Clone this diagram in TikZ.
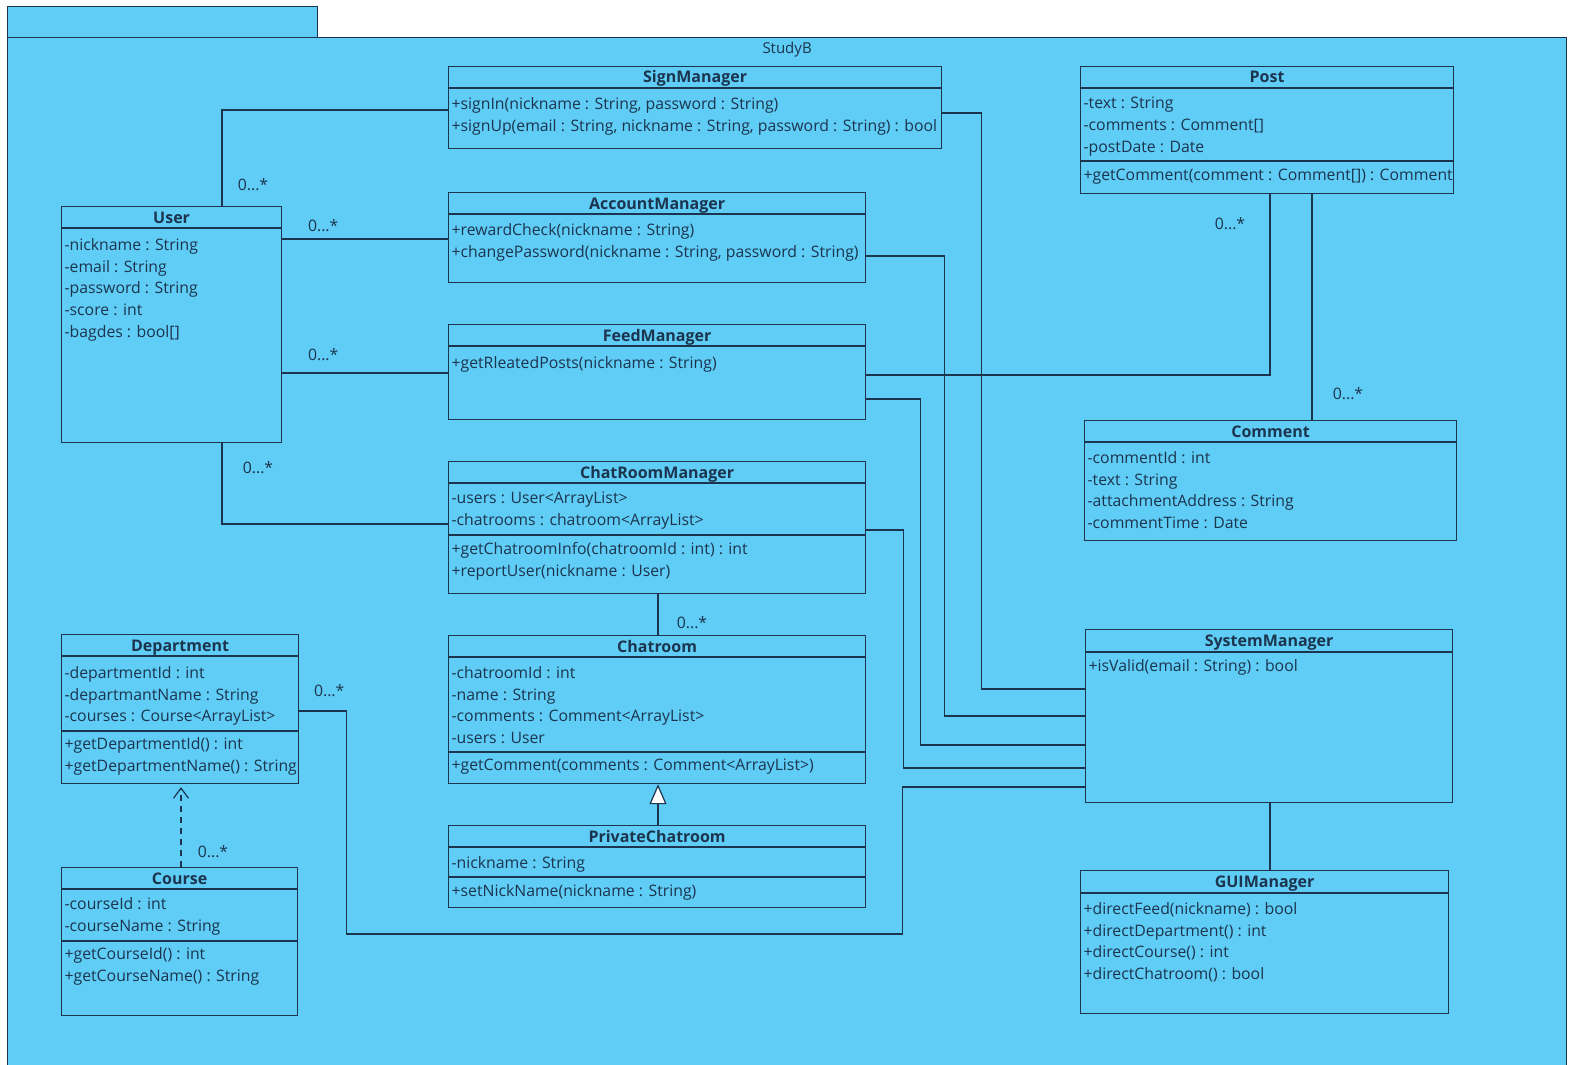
\documentclass[tikz,border=0pt]{standalone}
\usepackage{fontspec}
\setmainfont{Open Sans}
\usetikzlibrary{arrows.meta}
\definecolor{pkgblue}{RGB}{95,205,246}
\definecolor{ink}{RGB}{28,52,78}
\begin{document}
\begin{tikzpicture}[x=1pt,y=-1pt, line width=1.2pt, draw=ink, every node/.style={text=ink},
  box/.style={draw=ink,anchor=north west,inner sep=0},
  title/.style={font=\fontsize{16}{18}\selectfont\bfseries,inner sep=0,anchor=base},
  members/.style={anchor=north west,align=left,inner sep=0,font=\fontsize{15.8}{21.8}\selectfont},
  mult/.style={font=\fontsize{15.8}{18}\selectfont,inner sep=0},
  assoc/.style={draw=ink,line width=1.2pt}]
\useasboundingbox (0,0) rectangle (1572,1065);
\fill[white] (0,0) rectangle (1572,1065);
% package
\node[box,fill=pkgblue,minimum width=310pt,minimum height=31pt] (tab) at (7,6) {};
\node[box,fill=pkgblue,minimum width=1559pt,minimum height=1045pt] (studyb) at (7,37) {};
\node[mult,font=\fontsize{15}{17}\selectfont] (studyb-t) at ([yshift=-12.5pt]studyb.north) {StudyB};

% User
\node[box,minimum width=220pt,minimum height=236pt] (user) at (61,206) {};
\node[title] (user-t) at ([yshift=-17pt]user.north) {User};
\draw ([yshift=-22pt]user.north west) -- ([yshift=-22pt]user.north east);
\node[members] (user-a) at ([shift={(3pt,-31.7pt)}]user.north west) {-nickname : String\\-email : String\\-password : String\\-score : int\\-bagdes : bool[]};

% SignManager
\node[box,minimum width=493pt,minimum height=82pt] (sign) at (448,66) {};
\node[title] (sign-t) at ([yshift=-17pt]sign.north) {SignManager};
\draw ([yshift=-22pt]sign.north west) -- ([yshift=-22pt]sign.north east);
\node[members] (sign-m) at ([shift={(3pt,-30.7pt)}]sign.north west) {+signIn(nickname : String, password : String)\\+signUp(email : String, nickname : String, password : String) : bool};

% AccountManager
\node[box,minimum width=417pt,minimum height=90pt] (acct) at (448,192) {};
\node[title] (acct-t) at ([yshift=-17pt]acct.north) {AccountManager};
\draw ([yshift=-22pt]acct.north west) -- ([yshift=-22pt]acct.north east);
\node[members] (acct-m) at ([shift={(3pt,-30.7pt)}]acct.north west) {+rewardCheck(nickname : String)\\+changePassword(nickname : String, password : String)};

% FeedManager
\node[box,minimum width=417pt,minimum height=95pt] (feed) at (448,324) {};
\node[title] (feed-t) at ([yshift=-17pt]feed.north) {FeedManager};
\draw ([yshift=-22pt]feed.north west) -- ([yshift=-22pt]feed.north east);
\node[members] (feed-m) at ([shift={(3pt,-31.7pt)}]feed.north west) {+getRleatedPosts(nickname : String)};

% ChatRoomManager
\node[box,minimum width=417pt,minimum height=132pt] (crm) at (448,461) {};
\node[title] (crm-t) at ([yshift=-17pt]crm.north) {ChatRoomManager};
\draw ([yshift=-22pt]crm.north west) -- ([yshift=-22pt]crm.north east);
\draw ([yshift=-74pt]crm.north west) -- ([yshift=-74pt]crm.north east);
\node[members] (crm-a) at ([shift={(3pt,-30.7pt)}]crm.north west) {-users : User<ArrayList>\\-chatrooms : chatroom<ArrayList>};
\node[members] (crm-m) at ([shift={(3pt,-80.7pt)}]crm.north west) {+getChatroomInfo(chatroomId : int) : int\\+reportUser(nickname : User)};

% Chatroom
\node[box,minimum width=417pt,minimum height=148pt] (chat) at (448,635) {};
\node[title] (chat-t) at ([yshift=-17pt]chat.north) {Chatroom};
\draw ([yshift=-22pt]chat.north west) -- ([yshift=-22pt]chat.north east);
\draw ([yshift=-117pt]chat.north west) -- ([yshift=-117pt]chat.north east);
\node[members] (chat-a) at ([shift={(3pt,-30.7pt)}]chat.north west) {-chatroomId : int\\-name : String\\-comments : Comment<ArrayList>\\-users : User};
\node[members] (chat-m) at ([shift={(3pt,-123.7pt)}]chat.north west) {+getComment(comments : Comment<ArrayList>)};

% PrivateChatroom
\node[box,minimum width=417pt,minimum height=82pt] (priv) at (448,825) {};
\node[title] (priv-t) at ([yshift=-17pt]priv.north) {PrivateChatroom};
\draw ([yshift=-22pt]priv.north west) -- ([yshift=-22pt]priv.north east);
\draw ([yshift=-52pt]priv.north west) -- ([yshift=-52pt]priv.north east);
\node[members] (priv-a) at ([shift={(3pt,-30.7pt)}]priv.north west) {-nickname : String};
\node[members] (priv-m) at ([shift={(3pt,-58.5pt)}]priv.north west) {+setNickName(nickname : String)};

% Department
\node[box,minimum width=237pt,minimum height=149pt] (dept) at (61,634) {};
\node[title] (dept-t) at ([yshift=-17pt]dept.north) {Department};
\draw ([yshift=-22pt]dept.north west) -- ([yshift=-22pt]dept.north east);
\draw ([yshift=-97pt]dept.north west) -- ([yshift=-97pt]dept.north east);
\node[members] (dept-a) at ([shift={(3pt,-31.7pt)}]dept.north west) {-departmentId : int\\-departmantName : String\\-courses : Course<ArrayList>};
\node[members] (dept-m) at ([shift={(3pt,-102.7pt)}]dept.north west) {+getDepartmentId() : int\\+getDepartmentName() : String};

% Course
\node[box,minimum width=236pt,minimum height=148pt] (course) at (61,867) {};
\node[title] (course-t) at ([yshift=-17pt]course.north) {Course};
\draw ([yshift=-22pt]course.north west) -- ([yshift=-22pt]course.north east);
\draw ([yshift=-74pt]course.north west) -- ([yshift=-74pt]course.north east);
\node[members] (course-a) at ([shift={(3pt,-29.7pt)}]course.north west) {-courseId : int\\-courseName : String};
\node[members] (course-m) at ([shift={(3pt,-79.7pt)}]course.north west) {+getCourseId() : int\\+getCourseName() : String};

% Post
\node[box,minimum width=373pt,minimum height=127pt] (post) at (1080,66) {};
\node[title] (post-t) at ([yshift=-17pt]post.north) {Post};
\draw ([yshift=-22pt]post.north west) -- ([yshift=-22pt]post.north east);
\draw ([yshift=-95pt]post.north west) -- ([yshift=-95pt]post.north east);
\node[members] (post-a) at ([shift={(3pt,-30.7pt)}]post.north west) {-text : String\\-comments : Comment[]\\-postDate : Date};
\node[members] (post-m) at ([shift={(3pt,-102.7pt)}]post.north west) {+getComment(comment : Comment[]) : Comment};

% Comment
\node[box,minimum width=372pt,minimum height=120pt] (comment) at (1084,420) {};
\node[title] (comment-t) at ([yshift=-17pt]comment.north) {Comment};
\draw ([yshift=-22pt]comment.north west) -- ([yshift=-22pt]comment.north east);
\node[members] (comment-a) at ([shift={(3pt,-30.7pt)}]comment.north west) {-commentId : int\\-text : String\\-attachmentAddress : String\\-commentTime : Date};

% SystemManager
\node[box,minimum width=367pt,minimum height=173pt] (sys) at (1085,629) {};
\node[title] (sys-t) at ([yshift=-17.5pt]sys.north) {SystemManager};
\draw ([yshift=-23pt]sys.north west) -- ([yshift=-23pt]sys.north east);
\node[members] (sys-m) at ([shift={(3pt,-29.7pt)}]sys.north west) {+isValid(email : String) : bool};

% GUIManager
\node[box,minimum width=368pt,minimum height=143pt] (gui) at (1080,870) {};
\node[title] (gui-t) at ([yshift=-17.5pt]gui.north) {GUIManager};
\draw ([yshift=-23pt]gui.north west) -- ([yshift=-23pt]gui.north east);
\node[members] (gui-m) at ([shift={(3pt,-31.7pt)}]gui.north west) {+directFeed(nickname) : bool\\+directDepartment() : int\\+directCourse() : int\\+directChatroom() : bool};

% connectors
\draw[assoc] ([xshift=161pt]user.north west) node[mult,xshift=31pt,yshift=21pt] (m1) {0...*} |- ([yshift=-44pt]sign.north west);
\draw[assoc] ([yshift=-33pt]user.north east) node[mult,xshift=41pt,yshift=13pt] (m2) {0...*} -- ([yshift=-47pt]acct.north west);
\draw[assoc] ([yshift=-167pt]user.north east) node[mult,xshift=41pt,yshift=18pt] (m3) {0...*} -- ([yshift=-49pt]feed.north west);
\draw[assoc] ([xshift=161pt]user.south west) node[mult,xshift=36pt,yshift=-24pt] (m4) {0...*} |- ([yshift=-63pt]crm.north west);
\draw[assoc] ([xshift=210pt]chat.north west) node[mult,xshift=34pt,yshift=12pt] (m5) {0...*} -- ([xshift=210pt]crm.south west);
\draw[assoc,-{Triangle[length=20pt,width=17pt,fill=white]}] ([xshift=210pt]priv.north west) -- ([xshift=210pt]chat.south west);
\draw[assoc,dash pattern=on 6pt off 5pt,-{Straight Barb[length=10pt,width=15pt]}] ([xshift=120pt]course.north west) node[mult,xshift=32pt,yshift=15pt] (m6) {0...*} -- ([xshift=120pt,yshift=-3pt]dept.south west);
\draw[assoc] ([yshift=-77pt]dept.north east) node[mult,xshift=30pt,yshift=20pt] (m7) {0...*} -- ++(47pt,0) -- ++(0,-223pt) -- ++(556pt,0) |- ([yshift=-158pt]sys.north west);
\draw[assoc] ([yshift=-47pt]sign.north east) -- ++(39pt,0) |- ([yshift=-60pt]sys.north west);
\draw[assoc] ([yshift=-64pt]acct.north east) -- ++(78pt,0) |- ([yshift=-87pt]sys.north west);
\draw[assoc] ([yshift=-75pt]feed.north east) -- ++(54pt,0) |- ([yshift=-116pt]sys.north west);
\draw[assoc] ([yshift=-69pt]crm.north east) -- ++(37pt,0) |- ([yshift=-139pt]sys.north west);
\draw[assoc] ([xshift=190pt]post.south west) node[mult,xshift=-40pt,yshift=-29pt] (m8) {0...*} |- ([yshift=-51pt]feed.north east);
\draw[assoc] ([xshift=228pt]comment.north west) node[mult,xshift=36pt,yshift=26pt] (m9) {0...*} -- ([xshift=232pt]post.south west);
\draw[assoc] ([xshift=185pt]sys.south west) -- ([xshift=190pt]gui.north west);
\end{tikzpicture}
\end{document}
